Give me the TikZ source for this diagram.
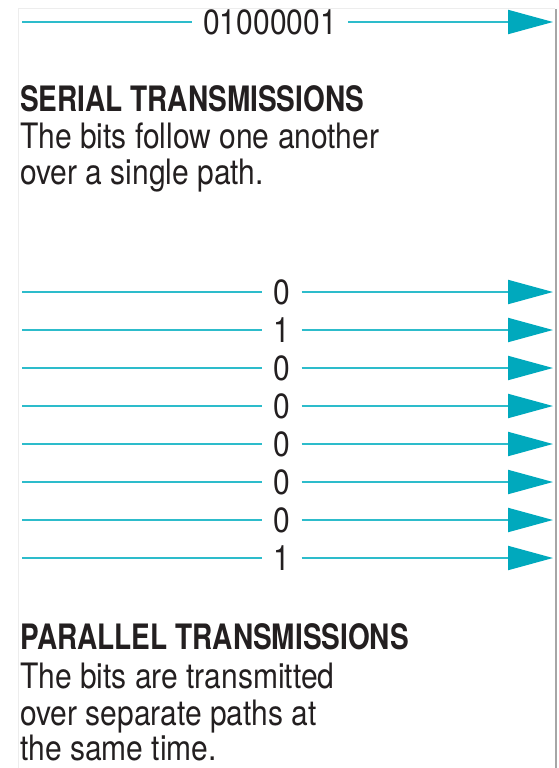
\documentclass[tikz,border=0pt]{standalone}
\usepackage{fontspec}
\setmainfont{TeX Gyre Heros}[FakeStretch=0.857, BoldFeatures={FakeStretch=0.80}]
\usetikzlibrary{arrows.meta}
\definecolor{wire}{HTML}{2DBCCB}
\definecolor{head}{HTML}{00A9BD}
\definecolor{ink}{HTML}{231F20}
\tikzset{
  wireline/.style={draw=wire, line width=2pt},
  wirearrow/.style={wireline, -{Triangle[length=45pt,width=24pt,color=head]}},
  bitlabel/.style={inner sep=0pt, inner xsep=11pt, text=ink, font=\fontsize{35}{38}\selectfont},
  heading/.style={inner sep=0pt, anchor=base west, text=ink, font=\fontsize{35}{38}\selectfont\bfseries},
  bodytext/.style={inner sep=0pt, anchor=base west, text=ink, font=\fontsize{35}{38}\selectfont},
}
\begin{document}
\begin{tikzpicture}[x=1pt,y=-1pt]
\useasboundingbox (0,0) rectangle (559,768);
% page frame
\draw[color=black!7, line width=1pt] (18,768) -- (18,9) -- (555,9);
\draw[color=black!35, line width=2pt] (556,9) -- (556,768);
% serial
\coordinate (ss) at (22,22);
\coordinate (se) at (553,22);
\node[bitlabel] (sl) at (270,22) {01000001};
\draw[wireline] (ss) -- (sl.west);
\draw[wirearrow] (sl.east) -- (se);
\node[heading] (sh) at (20,111) {SERIAL TRANSMISSIONS};
\node[bodytext] (s1) at (20,148) {The bits follow one another};
\node[bodytext] (s2) at (20,184) {over a single path.};
% parallel
\foreach \b [count=\i from 0] in {0,1,0,0,0,0,0,1} {
  \coordinate (ps\i) at (22,292+38*\i);
  \coordinate (pe\i) at (553,292+38*\i);
  \node[bitlabel] (pl\i) at (282,292+38*\i) {\b};
  \draw[wireline] (ps\i) -- (pl\i.west);
  \draw[wirearrow] (pl\i.east) -- (pe\i);
}
\node[heading] (ph) at (20,649) {PARALLEL TRANSMISSIONS};
\node[bodytext] (p1) at (20,688) {The bits are transmitted};
\node[bodytext] (p2) at (20,725) {over separate paths at};
\node[bodytext] (p3) at (20,760) {the same time.};
\end{tikzpicture}
\end{document}
